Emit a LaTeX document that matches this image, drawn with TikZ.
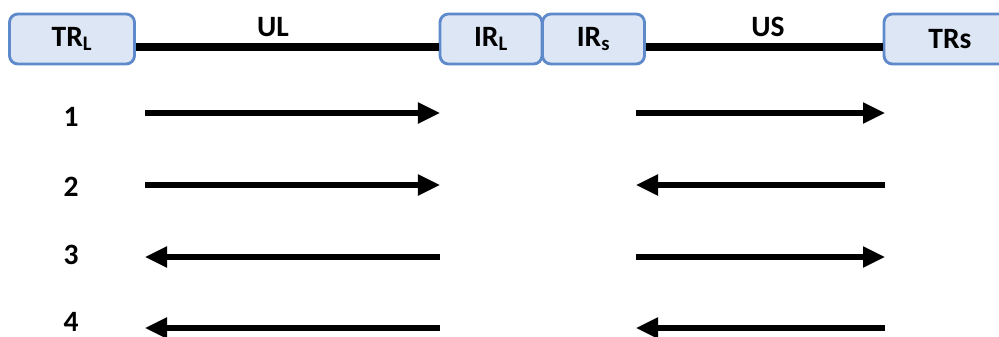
\documentclass[tikz,border=0pt]{standalone}
\usepackage{fontspec}
\setmainfont{Carlito}
\usetikzlibrary{arrows.meta}
\definecolor{boxfill}{HTML}{DCE6F4}
\definecolor{boxline}{HTML}{5E8ACB}
\tikzset{
    unit/.style={draw=boxline, fill=boxfill, line width=2pt, rounded corners=6pt,
        minimum height=1.25cm, inner sep=0pt},
    link/.style={line width=5.7pt},
    arr/.style={line width=3.6pt},
    >={Triangle[length=0.55cm,width=0.5cm]}
}
\begin{document}
\begin{tikzpicture}[x=0.025cm, y=-0.025cm, font=\fontsize{21}{25}\selectfont\bfseries]
    \useasboundingbox (0, 0) rectangle (999, 336);

    \node[unit, minimum width=3.125cm] (trl) at (72, 39) {TR\textsubscript{L}};
    \node[unit, minimum width=2.55cm] (irl) at (491, 39) {IR\textsubscript{L}};
    \node[unit, minimum width=2.55cm] (irs) at (593.5, 39) {IR\textsubscript{s}};
    \node[unit, minimum width=3.3cm] (trs) at (950, 39) {TRs};

    \draw[link] ([yshift=-0.2cm]trl.east) -- ([yshift=-0.2cm]irl.west);
    \draw[link] ([yshift=-0.2cm]irs.east) -- ([yshift=-0.2cm]trs.west);
    \node (ul) at (273, 27) {UL};
    \node (us) at (768, 27) {US};

    \foreach \i/\y/\t/\pl/\pr in {1/113/117/->/->, 2/185/187/->/<-, 3/257/255/<-/->, 4/328/322/<-/<-} {
        \node[inner sep=0pt] (n\i) at (71, \t) {\i};
        \coordinate (a\i) at (145, \y);
        \coordinate (b\i) at (440, \y);
        \coordinate (c\i) at (636, \y);
        \coordinate (d\i) at (885, \y);
        \draw[arr, \pl] (a\i) -- (b\i);
        \draw[arr, \pr] (c\i) -- (d\i);
    }
\end{tikzpicture}
\end{document}
